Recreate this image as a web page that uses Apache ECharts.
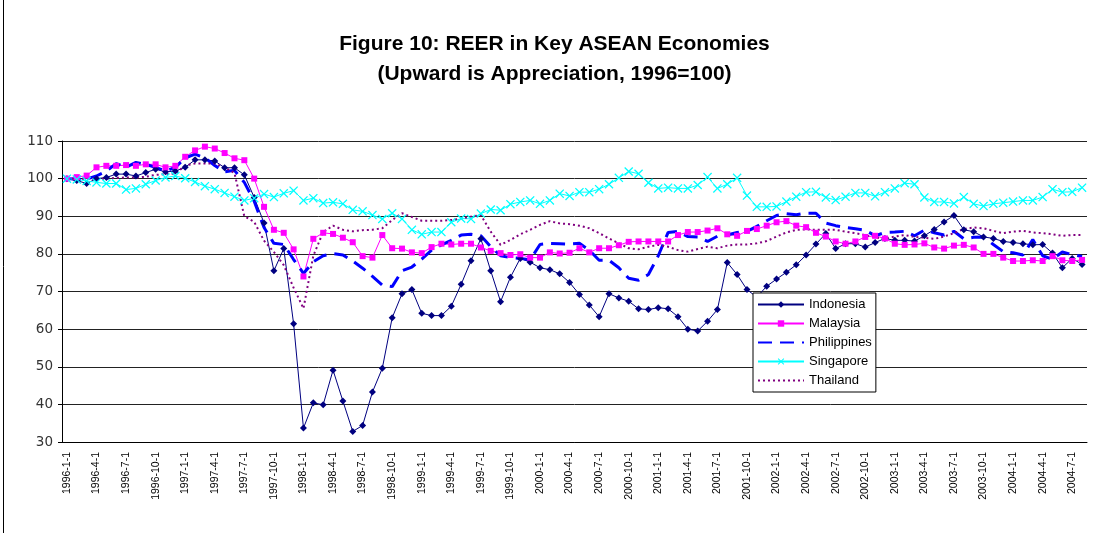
<!DOCTYPE html>
<html lang="en">
<head>
    <meta charset="UTF-8">
    <title>REER in Key ASEAN Economies</title>
    <style>
        html, body { margin: 0; padding: 0; background: #fff; }
        #main { width: 1109px; height: 533px; }
    </style>
</head>
<body>
<div id="main"></div>
<script src="https://cdn.jsdelivr.net/npm/echarts@6/dist/echarts.min.js"></script>
<script>
    // monthly categories, 1996-1 .. 2004-8
    const startYear = 1996;
    const monthCount = 104;
    const months = [];
    for (let k = 0; k < monthCount; k++) {
        months.push((startYear + Math.floor(k / 12)) + '-' + (k % 12 + 1) + '-1');
    }

    const indonesia = [100, 99.5, 98.7, 100, 100.3, 101.2, 101.2, 100.7, 101.6, 102.5, 101.8, 102,
        103, 105, 105, 104.7, 102.9, 102.9, 101, 95, 88.2, 75.5, 81.4, 61.4,
        33.7, 40.4, 39.9, 49.1, 40.9, 32.8, 34.4, 43.3, 49.6, 63, 69.4, 70.5,
        64.2, 63.6, 63.6, 66.1, 71.9, 78.2, 84, 75.5, 67.3, 73.8, 78.8, 77.8,
        76.3, 75.8, 74.7, 72.4, 69.2, 66.4, 63.3, 69.4, 68.3, 67.4, 65.4, 65.2,
        65.7, 65.4, 63.3, 60, 59.5, 62.1, 65.2, 77.7, 74.5, 70.5, 68.5, 71.4,
        73.3, 75.1, 77.1, 79.7, 82.6, 85.4, 81.4, 82.7, 82.7, 81.8, 83, 84.1,
        83.6, 83.6, 83.4, 84.8, 86.5, 88.5, 90.2, 86.4, 85.9, 84.5, 84.1, 83.3,
        83, 82.7, 82.4, 82.5, 80.2, 76.3, 78.8, 77.2];
    const malaysia = [100, 100.4, 100.8, 103, 103.4, 103.4, 103.6, 103.4, 103.8, 103.8, 103, 103.4,
        105.8, 107.5, 108.5, 108, 106.8, 105.4, 104.9, 100, 92.5, 86.4, 85.6, 81.2,
        74, 84, 85.6, 85.3, 84.3, 83.1, 79.4, 79, 85, 81.5, 81.4, 80.4,
        80.2, 81.8, 82.7, 82.5, 82.7, 82.7, 81.7, 80.8, 80.2, 79.7, 79.9, 79,
        79, 80.4, 80.1, 80.3, 81.5, 80.4, 81.5, 81.5, 82.3, 83.2, 83.3, 83.3,
        83.3, 83.3, 85, 85.8, 85.8, 86.2, 86.8, 85.2, 84.8, 86.1, 86.6, 87.5,
        88.4, 88.7, 87.5, 87.1, 85.6, 84.6, 83.3, 82.7, 83.3, 84.5, 84.8, 84.1,
        82.7, 82.4, 82.5, 82.8, 81.7, 81.4, 82.2, 82.4, 81.7, 80, 80, 79,
        78.1, 78.1, 78.3, 78.1, 79.4, 78.3, 78.1, 78.4];
    const philippines = [100, 99.8, 99.9, 100.7, 102, 104, 103, 104.3, 103.8, 103, 102, 103,
        105.5, 106.5, 105.5, 103.5, 101.8, 102.2, 99, 94, 87, 82.8, 82.5, 78.5,
        74.8, 77.9, 79.5, 80.1, 79.7, 78.1, 76.2, 74, 71.7, 71.3, 75.5, 76.5,
        78.6, 81, 82.4, 83.6, 85, 85.2, 84.8, 81.9, 79.5, 79, 78.8, 78.4,
        82.5, 82.8, 82.7, 82.6, 82.8, 81, 78.3, 78.3, 76.3, 73.5, 73, 74.5,
        79.5, 85.7, 86, 84.6, 84.5, 83.3, 84.7, 85, 85.7, 86, 87.3, 88.8,
        90.2, 90.7, 90.4, 90.8, 90.8, 88.2, 87.5, 87, 86.7, 86.3, 84.8, 85.7,
        85.8, 86, 84.8, 86.3, 85.6, 85, 86, 84, 84.4, 84.5, 82.5, 80.6,
        80.3, 79.7, 83.8, 79.5, 78.6, 80.5, 79.8, 79.3];
    const singapore = [100, 99.8, 99.4, 99, 98.7, 98.7, 97.1, 97.4, 98.5, 99.5, 100.3, 100.7,
        100.1, 99.1, 98, 97.2, 96.2, 95.2, 94.2, 94.8, 95.9, 95.1, 96.1, 96.8,
        94.2, 94.8, 93.5, 93.7, 93.3, 91.7, 91.3, 90.3, 89.3, 90.8, 89.3, 86.4,
        85.2, 85.8, 85.8, 88.4, 89.4, 89.3, 90.7, 91.8, 91.6, 93.2, 93.8, 94.2,
        93.3, 94.2, 96, 95.4, 96.4, 96.4, 97.2, 98.5, 100.2, 101.9, 101.3, 98.9,
        97.4, 97.6, 97.4, 97.4, 98.3, 100.4, 97.4, 98.5, 100.2, 95.5, 92.5, 92.5,
        92.6, 93.9, 95.2, 96.4, 96.5, 95, 94.3, 95.2, 96.2, 96.2, 95.3, 96.4,
        97.4, 98.8, 98.5, 95, 93.8, 93.8, 93.4, 95.1, 93.3, 92.7, 93.3, 93.6,
        93.9, 94.2, 94.2, 95.1, 97.2, 96.4, 96.5, 97.6];
    const thailand = [100, 100, 100, 100, 100, 100.2, 100.3, 100.3, 100.5, 101, 101.2, 101.3,
        103.5, 104, 104, 104, 103, 101.5, 90, 88.5, 83.5, 80.5, 77, 71,
        65.5, 79.5, 85.8, 87.5, 86.4, 86, 86.3, 86.4, 86.8, 89, 90.8, 89.8,
        88.8, 88.8, 88.8, 89, 89.4, 89.9, 90.3, 85.9, 82.4, 83.7, 85.2, 86.4,
        87.7, 88.7, 88.1, 87.9, 87.5, 86.8, 85.5, 84.1, 82.8, 81.5, 81.2, 81.9,
        82.4, 81.9, 81, 80.6, 81.3, 81.9, 81.5, 82.2, 82.5, 82.5, 82.8, 83.4,
        84.6, 85.7, 86.4, 86.5, 86.4, 86.4, 86.4, 85.9, 85.5, 85, 84.3, 84.1,
        84.6, 85, 84.5, 84.3, 84, 84.6, 85.5, 86.6, 87, 86.8, 86.1, 85.5,
        85.9, 86.1, 85.7, 85.5, 85.2, 84.8, 85, 85];

    const crossSymbol = 'path://M0,1 L1,0 L5,4 L9,0 L10,1 L6,5 L10,9 L9,10 L5,6 L1,10 L0,9 L4,5 Z';

    const myChart = echarts.init(document.getElementById('main'));

    myChart.setOption({
        animation: false,
        backgroundColor: '#fff',
        title: {
            text: 'Figure 10: REER in Key ASEAN Economies\n(Upward is Appreciation, 1996=100)',
            left: 'center',
            top: 24,
            textStyle: {
                fontFamily: 'Liberation Sans',
                fontSize: 21,
                fontWeight: 'bold',
                lineHeight: 30,
                color: '#000'
            }
        },
        graphic: [{
            type: 'line',
            shape: {x1: 3.5, y1: 0, x2: 3.5, y2: 533},
            style: {stroke: '#000', lineWidth: 1}
        }],
        legend: {
            orient: 'vertical',
            left: 753,
            top: 293,
            padding: [4, 4, 4, 4],
            itemGap: 4,
            itemWidth: 46,
            itemHeight: 8,
            backgroundColor: '#fff',
            borderColor: '#000',
            borderWidth: 1,
            borderRadius: 0,
            textStyle: {fontFamily: 'Liberation Sans', fontSize: 13, lineHeight: 15, color: '#000'},
            data: [
                {name: 'Indonesia'},
                {name: 'Malaysia'},
                {name: 'Philippines', itemStyle: {opacity: 0}},
                {name: 'Singapore'},
                {name: 'Thailand', itemStyle: {opacity: 0}}
            ]
        },
        grid: {left: 62, right: 22, top: 141, bottom: 91},
        xAxis: {
            type: 'category',
            data: months,
            boundaryGap: true,
            axisLine: {lineStyle: {color: '#000', width: 1}},
            axisTick: {interval: 2, length: 5, lineStyle: {color: '#000'}},
            axisLabel: {
                interval: 2,
                rotate: 90,
                margin: 10,
                fontFamily: 'Liberation Sans',
                fontSize: 10.5,
                color: '#000'
            },
            splitLine: {show: false}
        },
        yAxis: {
            type: 'value',
            min: 30,
            max: 110,
            interval: 10,
            axisLine: {show: true, lineStyle: {color: '#000', width: 1}},
            axisTick: {show: true, length: 4, lineStyle: {color: '#000'}},
            axisLabel: {fontFamily: 'DejaVu Sans', fontSize: 13.5, color: '#333', margin: 9},
            splitLine: {lineStyle: {color: '#222', width: 1}}
        },
        series: [
            {
                name: 'Indonesia',
                type: 'line',
                data: indonesia,
                symbol: 'diamond',
                symbolSize: 7,
                showAllSymbol: true,
                color: '#000080',
                lineStyle: {width: 1, color: '#000080'}
            },
            {
                name: 'Malaysia',
                type: 'line',
                data: malaysia,
                symbol: 'rect',
                symbolSize: 6,
                showAllSymbol: true,
                color: '#ff00ff',
                lineStyle: {width: 1, color: '#ff00ff'}
            },
            {
                name: 'Philippines',
                type: 'line',
                data: philippines,
                symbol: 'none',
                color: '#0000ff',
                lineStyle: {width: 3, color: '#0000ff', type: [14, 8]}
            },
            {
                name: 'Singapore',
                type: 'line',
                data: singapore,
                symbol: crossSymbol,
                symbolSize: 9,
                showAllSymbol: true,
                color: '#00ffff',
                lineStyle: {width: 1, color: '#00ffff'}
            },
            {
                name: 'Thailand',
                type: 'line',
                data: thailand,
                symbol: 'none',
                color: '#800080',
                lineStyle: {width: 2, color: '#800080', type: [2, 3]}
            }
        ]
    });
</script>
</body>
</html>
